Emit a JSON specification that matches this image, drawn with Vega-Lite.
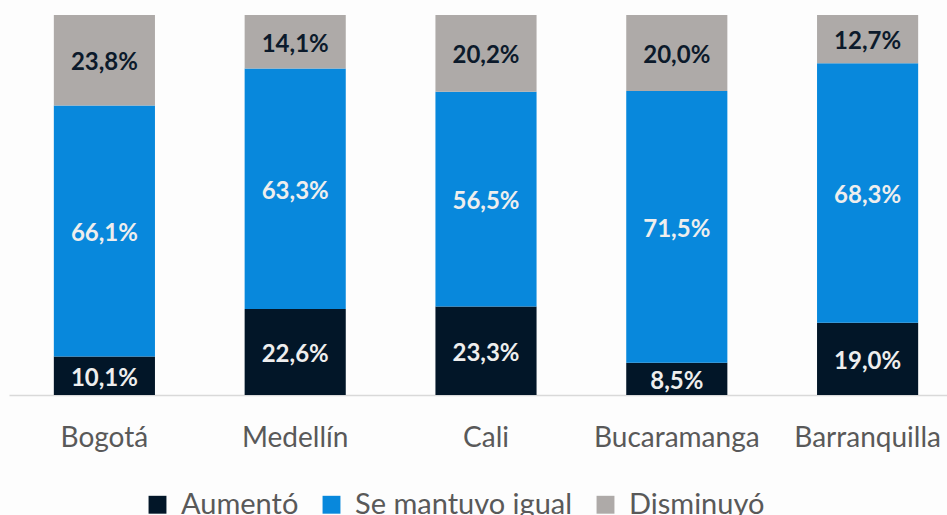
{
  "$schema": "https://vega.github.io/schema/vega-lite/v6.json",
  "autosize": {"type": "none"},
  "width": 938,
  "height": 380,
  "padding": {"left": 9, "top": 15, "right": 0, "bottom": 120},
  "background": "#fdfdfd",
  "config": {
    "view": {"stroke": null},
    "locale": {"number": {"decimal": ",", "thousands": ".", "grouping": [3], "currency": ["", " €"]}},
    "font": "Lato"
  },
  "data": {
    "values": [
      {"ciudad": "Bogotá", "serie": "Aumentó", "orden": 1, "valor": 0.101},
      {"ciudad": "Bogotá", "serie": "Se mantuvo igual", "orden": 2, "valor": 0.661},
      {"ciudad": "Bogotá", "serie": "Disminuyó", "orden": 3, "valor": 0.238},
      {"ciudad": "Medellín", "serie": "Aumentó", "orden": 1, "valor": 0.226},
      {"ciudad": "Medellín", "serie": "Se mantuvo igual", "orden": 2, "valor": 0.633},
      {"ciudad": "Medellín", "serie": "Disminuyó", "orden": 3, "valor": 0.141},
      {"ciudad": "Cali", "serie": "Aumentó", "orden": 1, "valor": 0.233},
      {"ciudad": "Cali", "serie": "Se mantuvo igual", "orden": 2, "valor": 0.565},
      {"ciudad": "Cali", "serie": "Disminuyó", "orden": 3, "valor": 0.202},
      {"ciudad": "Bucaramanga", "serie": "Aumentó", "orden": 1, "valor": 0.085},
      {"ciudad": "Bucaramanga", "serie": "Se mantuvo igual", "orden": 2, "valor": 0.715},
      {"ciudad": "Bucaramanga", "serie": "Disminuyó", "orden": 3, "valor": 0.200},
      {"ciudad": "Barranquilla", "serie": "Aumentó", "orden": 1, "valor": 0.190},
      {"ciudad": "Barranquilla", "serie": "Se mantuvo igual", "orden": 2, "valor": 0.683},
      {"ciudad": "Barranquilla", "serie": "Disminuyó", "orden": 3, "valor": 0.127}
    ]
  },
  "transform": [
    {"stack": "valor", "groupby": ["ciudad"], "sort": [{"field": "orden", "order": "ascending"}], "as": ["y0", "y1"]},
    {"calculate": "(datum.y0 + datum.y1) / 2", "as": "ymid"}
  ],
  "encoding": {
    "x": {
      "field": "ciudad",
      "type": "nominal",
      "sort": ["Bogotá", "Medellín", "Cali", "Bucaramanga", "Barranquilla"],
      "scale": {"range": [0, 954], "paddingInner": 0.47, "paddingOuter": 0.235},
      "axis": {
        "title": null,
        "labelAngle": 0,
        "labelFont": "Lato",
        "labelFontSize": 28,
        "labelColor": "#595959",
        "labelPadding": 29,
        "ticks": false,
        "domainColor": "#d9d9d9",
        "domainWidth": 1.5
      }
    }
  },
  "layer": [
    {
      "mark": {"type": "bar"},
      "encoding": {
        "y": {"field": "y0", "type": "quantitative", "scale": {"domain": [0, 1]}, "axis": null},
        "y2": {"field": "y1"},
        "color": {
          "field": "serie",
          "type": "nominal",
          "sort": ["Aumentó", "Se mantuvo igual", "Disminuyó"],
          "scale": {"domain": ["Aumentó", "Se mantuvo igual", "Disminuyó"], "range": ["#021628", "#0888dc", "#aeaaa8"]},
          "legend": {
            "title": null,
            "orient": "none",
            "legendX": 134,
            "legendY": 475,
            "direction": "horizontal",
            "symbolType": "square",
            "symbolSize": 320,
            "symbolStrokeWidth": 0,
            "labelFont": "Lato",
            "labelFontSize": 29,
            "labelColor": "#595959",
            "labelLimit": 400,
            "columnPadding": 18,
            "labelOffset": 9,
            "padding": 0
          }
        }
      }
    },
    {
      "mark": {"type": "text", "font": "Lato", "fontWeight": "bold", "fontSize": 24, "baseline": "middle", "dy": 3},
      "encoding": {
        "y": {"field": "ymid", "type": "quantitative", "scale": {"domain": [0, 1]}},
        "text": {"field": "valor", "type": "quantitative", "format": ".1%"},
        "color": {
          "condition": {"test": "datum.serie === 'Disminuyó'", "value": "#0c1a2b"},
          "value": "#eeeeee"
        }
      }
    }
  ]
}
